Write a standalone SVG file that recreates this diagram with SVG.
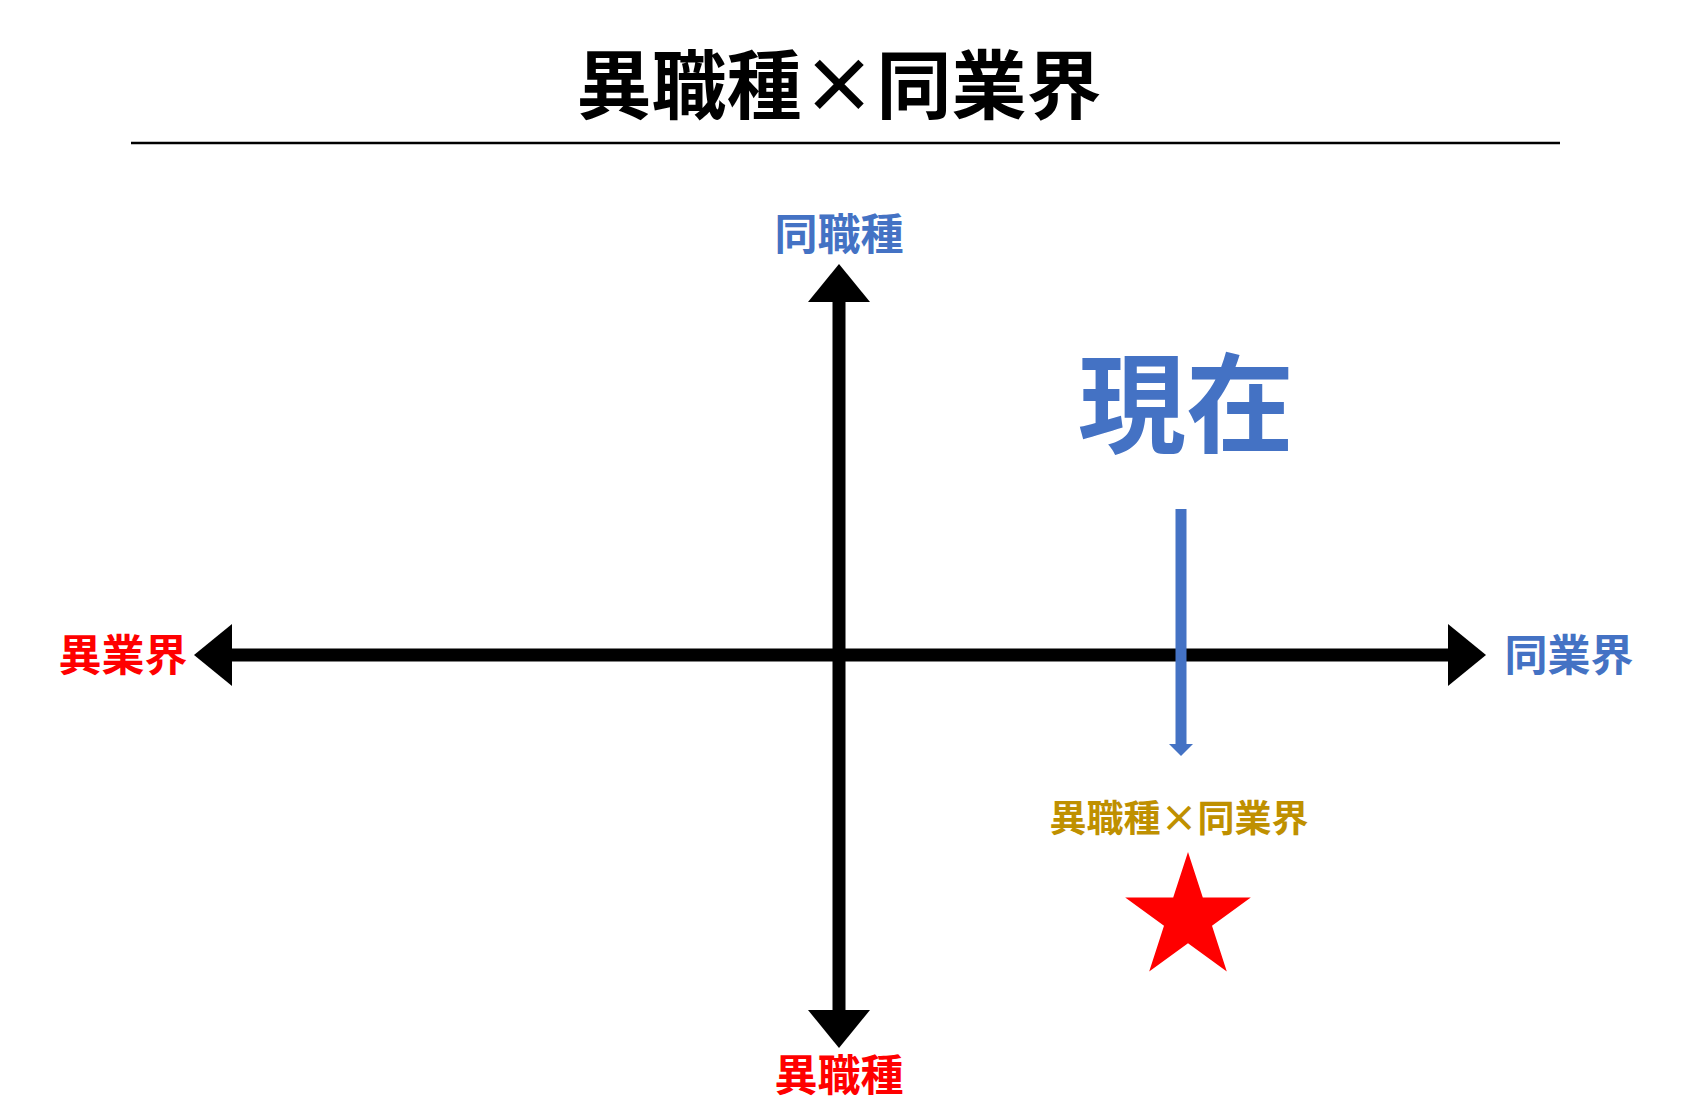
<svg xmlns="http://www.w3.org/2000/svg" width="1682" height="1102" viewBox="0 0 1682 1102">
<style>
text{font-family:"Noto Sans CJK JP","Noto Sans CJK SC",sans-serif;font-weight:bold;text-anchor:middle}
.ax{stroke:#000;stroke-width:13;fill:none}
.blue{fill:#4472C4}.red{fill:#FF0000}
</style>
<rect width="1682" height="1102" fill="#fff"/>
<g id="title"><text x="839" y="113" font-size="75">異職種×同業界</text>
<line x1="131" y1="143" x2="1560" y2="143" stroke="#000" stroke-width="2.5"/></g>
<g id="connectors">
<line class="ax" x1="839" y1="290" x2="839" y2="1022"/>
<polygon points="839,264 808,302 870,302"/>
<polygon points="839,1048 808,1010 870,1010"/>
<line class="ax" x1="220" y1="655" x2="1460" y2="655"/>
<polygon points="194,655 232,624 232,686"/>
<polygon points="1486,655 1448,624 1448,686"/>
<line x1="1181" y1="509" x2="1181" y2="748" stroke="#4472C4" stroke-width="11"/>
<polygon points="1181,756 1169,744 1193,744" fill="#4472C4"/>
</g>
<g id="n-top"><text class="blue" x="839" y="250" font-size="43">同職種</text></g>
<g id="n-bottom"><text class="red" x="839" y="1091" font-size="43">異職種</text></g>
<g id="n-left"><text class="red" x="123" y="671" font-size="43">異業界</text></g>
<g id="n-right"><text class="blue" x="1569" y="671" font-size="43">同業界</text></g>
<g id="n-now"><text class="blue" x="1186" y="444" font-size="108">現在</text></g>
<g id="n-target"><text x="1179" y="832" font-size="37" fill="#BF9000">異職種×同業界</text>
<polygon class="red" transform="translate(1188,918)" points="0,-66 14.8,-20.4 62.8,-20.4 24,7.8 38.8,53.4 0,25.2 -38.8,53.4 -24,7.8 -62.8,-20.4 -14.8,-20.4"/></g>
</svg>
